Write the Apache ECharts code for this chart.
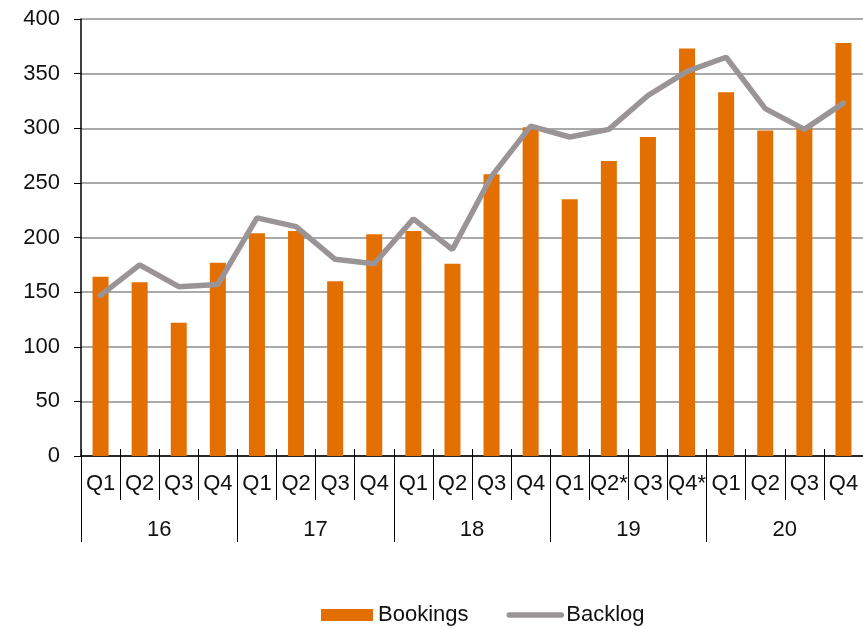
<!DOCTYPE html>
<html>
<head>
<meta charset="utf-8">
<script src="https://cdn.jsdelivr.net/npm/echarts@6/dist/echarts.min.js"></script>
<style>
  html, body { margin: 0; padding: 0; background: #fff; }
  #chart { width: 863px; height: 629px; }
</style>
</head>
<body>
<div id="chart"></div>
<script>
var quarters = ['Q1', 'Q2', 'Q3', 'Q4', 'Q1', 'Q2', 'Q3', 'Q4', 'Q1', 'Q2', 'Q3', 'Q4',
  'Q1', 'Q2*', 'Q3', 'Q4*', 'Q1', 'Q2', 'Q3', 'Q4'];
var years = ['16', '17', '18', '19', '20'];
var bookings = [164, 159, 122, 177, 204, 206, 160, 203, 206, 176, 258, 301,
  235, 270, 292, 373, 333, 298, 301, 378];
var backlog = [147, 175, 155, 157, 218, 210, 180, 176, 217, 189, 256, 302,
  292, 299, 330, 352, 365, 318, 299, 323];
var yTicks = { min: 0, max: 400, interval: 50 };

var myChart = echarts.init(document.getElementById('chart'));
var font = 'Liberation Sans, Arial, sans-serif';
var lineColor = '#9A9497';

var option = {
  animation: false,
  textStyle: { fontFamily: font },
  grid: { left: 81, right: 0, top: 19, bottom: 173 },
  legend: {
    bottom: -2,
    left: 316,
    itemGap: 38,
    itemWidth: 52,
    itemHeight: 12,
    textStyle: { fontSize: 22, color: '#111', fontFamily: font },
    data: [
      { name: 'Bookings', icon: 'rect' },
      {
        name: 'Backlog',
        itemStyle: { opacity: 0 },
        lineStyle: { width: 5.5, color: lineColor, cap: 'round' }
      }
    ]
  },
  xAxis: [{
    type: 'category',
    data: quarters,
    position: 'bottom',
    axisLine: { lineStyle: { color: '#000', width: 1.5 } },
    axisTick: { show: true, length: 44, lineStyle: { color: '#000' } },
    axisLabel: { interval: 0, margin: 17, fontSize: 22, color: '#111', fontFamily: font }
  }, {
    type: 'category',
    data: years,
    position: 'bottom',
    axisLine: { show: false },
    axisTick: { show: true, length: 86, lineStyle: { color: '#000' } },
    axisLabel: { interval: 0, margin: 63, fontSize: 22, color: '#111', fontFamily: font }
  }, {
    type: 'category',
    data: quarters,
    position: 'bottom',
    axisLine: { show: false },
    axisTick: { show: true, inside: true, length: 7, lineStyle: { color: '#000' } },
    axisLabel: { show: false }
  }],
  yAxis: {
    type: 'value',
    min: yTicks.min,
    max: yTicks.max,
    interval: yTicks.interval,
    axisLine: { show: true, lineStyle: { color: '#000', width: 1.5 } },
    axisTick: { show: true, length: 7, lineStyle: { color: '#000' } },
    axisLabel: { margin: 21, fontSize: 22, color: '#111', fontFamily: font },
    splitLine: { lineStyle: { color: '#8c8c8c', width: 1.5 } }
  },
  series: [{
    name: 'Bookings',
    type: 'bar',
    barWidth: 16,
    itemStyle: { color: '#E36F00' },
    data: bookings
  }, {
    name: 'Backlog',
    type: 'line',
    symbol: 'none',
    z: 5,
    lineStyle: { color: lineColor, width: 5.5, cap: 'round' },
    itemStyle: { color: lineColor },
    data: backlog
  }]
};

myChart.setOption(option);
window.addEventListener('resize', function () {
  myChart.resize();
});
</script>
</body>
</html>
